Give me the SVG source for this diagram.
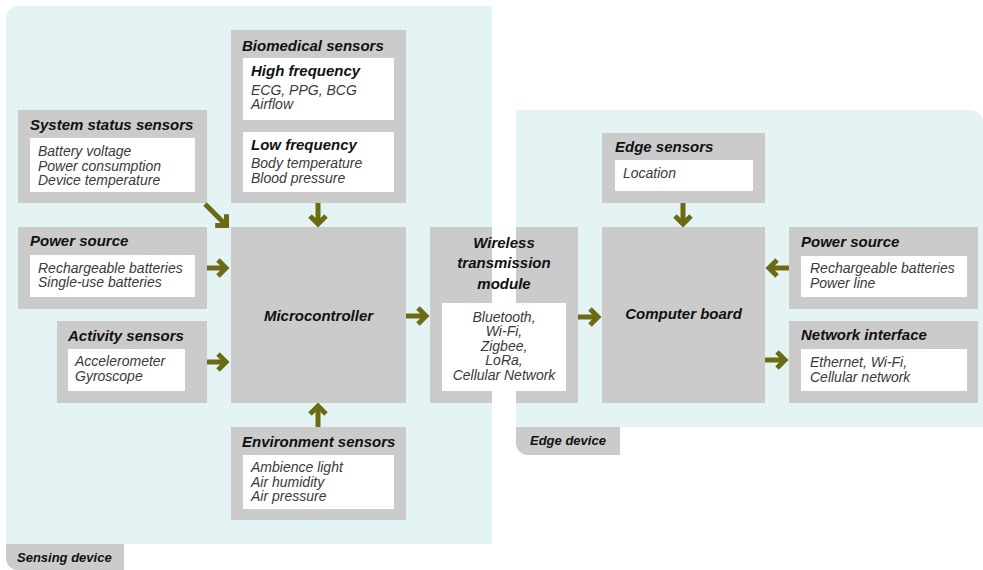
<svg xmlns="http://www.w3.org/2000/svg" width="983" height="570" viewBox="0 0 983 570">
  <style>
    .region { fill: #e4f3f3; }
    .box { fill: #cbcbcb; }
    .inner { fill: #ffffff; }
    .title { font-family: "Liberation Sans", Arial, sans-serif; font-weight: 700; font-style: italic; font-size: 15px; fill: #111111; }
    .tab { font-size: 13px; }
    .item { font-family: "Liberation Sans", Arial, sans-serif; font-style: italic; font-size: 14px; fill: #3a3a3a; }
    .mid { text-anchor: middle; }
    .arrow { fill: none; stroke: #6b6b14; stroke-width: 5; marker-end: url(#head); }
  </style>
  <defs>
    <marker id="head" markerUnits="userSpaceOnUse" markerWidth="30" markerHeight="30" viewBox="-15 -15 30 30" refX="0" refY="0" orient="auto" overflow="visible">
      <path d="M-8,-8 L0,0 L-8,8" fill="none" stroke="#6b6b14" stroke-width="5"/>
    </marker>
  </defs>

  <!-- device regions -->
  <g id="sensing-device">
    <path class="region" d="M6,544 V18 A12,12 0 0 1 18,6 H492 V544 Z"/>
    <path class="box" d="M6,544 H124 V570 H18 A12,12 0 0 1 6,558 Z"/>
    <text class="title tab" x="17" y="562">Sensing device</text>
  </g>
  <g id="edge-device">
    <path class="region" d="M516,110 H971 A12,12 0 0 1 983,122 V427 H516 Z"/>
    <path class="box" d="M516,427 H620 V455 H528 A12,12 0 0 1 516,443 Z"/>
    <text class="title tab" x="530" y="445">Edge device</text>
  </g>

  <!-- sensing device nodes -->
  <g id="system-status-sensors">
    <rect class="box" x="18" y="110" width="189" height="93"/>
    <text class="title" x="30" y="130">System status sensors</text>
    <rect class="inner" x="30" y="138" width="165" height="54"/>
    <text class="item" x="38" y="156">Battery voltage</text>
    <text class="item" x="38" y="171">Power consumption</text>
    <text class="item" x="38" y="185">Device temperature</text>
  </g>

  <g id="biomedical-sensors">
    <rect class="box" x="231" y="30" width="175" height="173"/>
    <text class="title" x="242" y="51">Biomedical sensors</text>
    <rect class="inner" x="243" y="58" width="151" height="62"/>
    <text class="title" x="251" y="76">High frequency</text>
    <text class="item" x="251" y="95">ECG, PPG, BCG</text>
    <text class="item" x="251" y="109">Airflow</text>
    <rect class="inner" x="243" y="132" width="151" height="60"/>
    <text class="title" x="251" y="150">Low frequency</text>
    <text class="item" x="251" y="168">Body temperature</text>
    <text class="item" x="251" y="183">Blood pressure</text>
  </g>

  <g id="power-source-sensing">
    <rect class="box" x="18" y="227" width="189" height="82"/>
    <text class="title" x="30" y="246">Power source</text>
    <rect class="inner" x="30" y="255" width="165" height="42"/>
    <text class="item" x="38" y="273">Rechargeable batteries</text>
    <text class="item" x="38" y="287">Single-use batteries</text>
  </g>

  <g id="activity-sensors">
    <rect class="box" x="57" y="321" width="150" height="82"/>
    <text class="title" x="68" y="341">Activity sensors</text>
    <rect class="inner" x="68" y="349" width="117" height="42"/>
    <text class="item" x="75" y="366">Accelerometer</text>
    <text class="item" x="75" y="381">Gyroscope</text>
  </g>

  <g id="microcontroller">
    <rect class="box" x="231" y="227" width="175" height="176"/>
    <text class="title mid" x="318.5" y="321">Microcontroller</text>
  </g>

  <g id="environment-sensors">
    <rect class="box" x="231" y="427" width="175" height="93"/>
    <text class="title" x="242" y="447">Environment sensors</text>
    <rect class="inner" x="243" y="455" width="151" height="54"/>
    <text class="item" x="251" y="472">Ambience light</text>
    <text class="item" x="251" y="487">Air humidity</text>
    <text class="item" x="251" y="501">Air pressure</text>
  </g>

  <!-- module straddling both devices; the gap between regions shows through -->
  <g id="wireless-transmission-module">
    <rect class="box" x="430" y="227" width="62" height="176"/>
    <rect class="box" x="516" y="227" width="62" height="176"/>
    <text class="title mid" x="504" y="248">Wireless</text>
    <text class="title mid" x="504" y="268">transmission</text>
    <text class="title mid" x="504" y="289">module</text>
    <rect class="inner" x="442" y="303" width="124" height="88"/>
    <text class="item mid" x="504" y="322">Bluetooth,</text>
    <text class="item mid" x="504" y="336">Wi-Fi,</text>
    <text class="item mid" x="504" y="351">Zigbee,</text>
    <text class="item mid" x="504" y="365">LoRa,</text>
    <text class="item mid" x="504" y="380">Cellular Network</text>
  </g>

  <!-- edge device nodes -->
  <g id="edge-sensors">
    <rect class="box" x="602" y="133" width="163" height="70"/>
    <text class="title" x="615" y="152">Edge sensors</text>
    <rect class="inner" x="615" y="160" width="138" height="31"/>
    <text class="item" x="623" y="178">Location</text>
  </g>

  <g id="computer-board">
    <rect class="box" x="602" y="227" width="163" height="176"/>
    <text class="title mid" x="683.5" y="319">Computer board</text>
  </g>

  <g id="power-source-edge">
    <rect class="box" x="789" y="227" width="189" height="82"/>
    <text class="title" x="801" y="247">Power source</text>
    <rect class="inner" x="801" y="256" width="166" height="41"/>
    <text class="item" x="810" y="273">Rechargeable batteries</text>
    <text class="item" x="810" y="288">Power line</text>
  </g>

  <g id="network-interface">
    <rect class="box" x="789" y="321" width="189" height="82"/>
    <text class="title" x="801" y="340">Network interface</text>
    <rect class="inner" x="801" y="349" width="166" height="42"/>
    <text class="item" x="810" y="367">Ethernet, Wi-Fi,</text>
    <text class="item" x="810" y="382">Cellular network</text>
  </g>

  <!-- connectors -->
  <g id="connectors">
    <path class="arrow" d="M205,204 L226.5,225.5"/>
    <path class="arrow" d="M318,203 L318,224"/>
    <path class="arrow" d="M207,268 L226,268"/>
    <path class="arrow" d="M207,362 L226,362"/>
    <path class="arrow" d="M318,427 L318,406"/>
    <path class="arrow" d="M406,316 L426,316"/>
    <path class="arrow" d="M578,317 L598,317"/>
    <path class="arrow" d="M683,203 L683,224"/>
    <path class="arrow" d="M789,268 L769,268"/>
    <path class="arrow" d="M765,360 L785,360"/>
  </g>
</svg>
